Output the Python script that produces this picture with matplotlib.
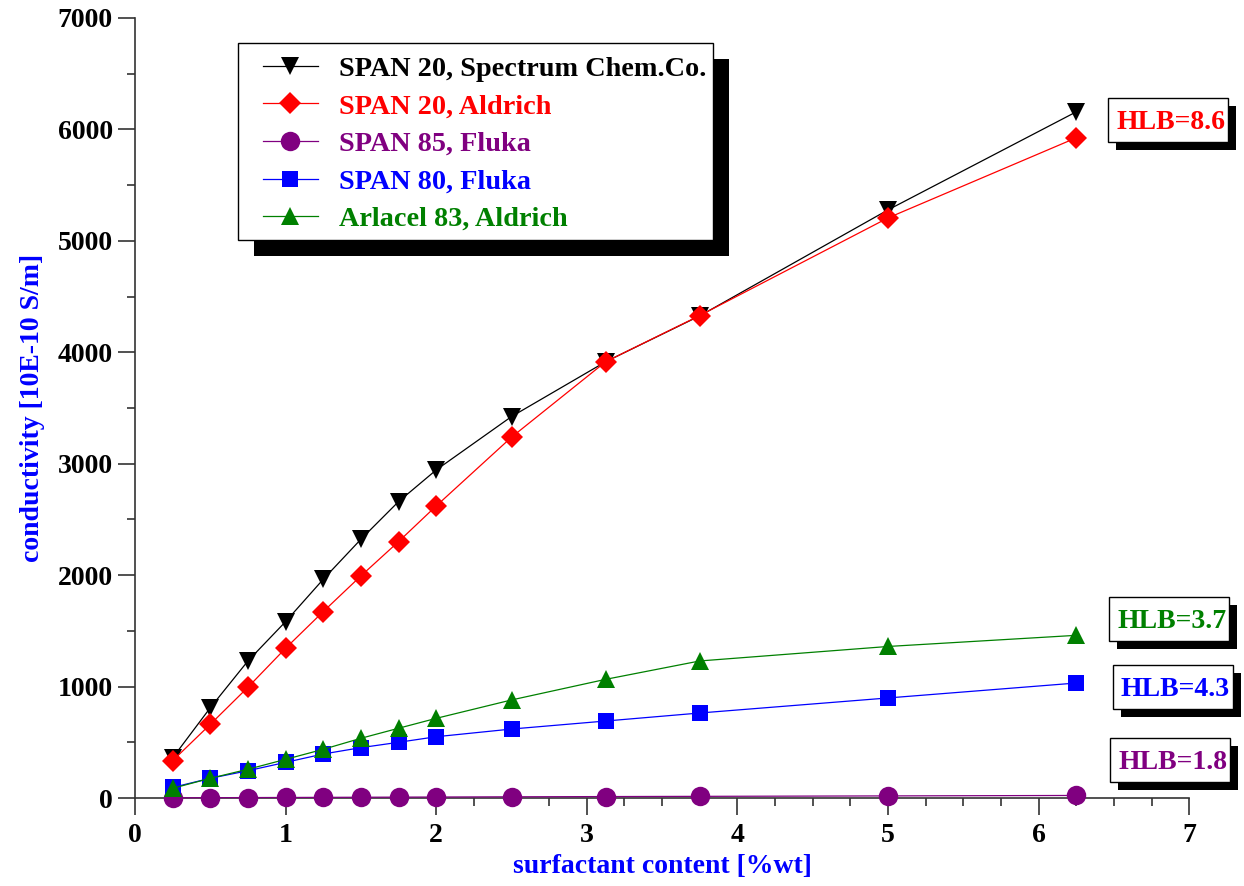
import matplotlib
matplotlib.use("Agg")
from matplotlib import pyplot as plt
from matplotlib.patches import Rectangle

plt.rcParams['font.family'] = ['Liberation Serif', 'DejaVu Serif']
plt.rcParams['font.weight'] = 'bold'

# surfactant content [%wt]
x = [0.25, 0.5, 0.75, 1.0, 1.25, 1.5, 1.75, 2.0, 2.5, 3.125, 3.75, 5.0, 6.25]

# conductivity [10E-10 S/m]
span20_spectrum = [360, 810, 1230, 1583, 1963, 2322, 2660, 2944, 3423, 3915, 4327, 5278, 6158]
span20_aldrich = [335, 661, 994, 1344, 1673, 1993, 2301, 2621, 3238, 3915, 4330, 5206, 5925]
span85_fluka = [2, 3, 4, 5, 6, 7, 8, 9, 11, 13, 15, 19, 23]
span80_fluka = [95, 177, 245, 320, 395, 452, 500, 550, 619, 691, 763, 898, 1032]
arlacel83_aldrich = [87, 177, 258, 347, 437, 536, 626, 715, 880, 1065, 1230, 1360, 1460]

labels = ["SPAN 20, Spectrum Chem.Co.", "SPAN 20, Aldrich", "SPAN 85, Fluka",
          "SPAN 80, Fluka", "Arlacel 83, Aldrich"]
colors = ["black", "#ff0000", "#800080", "#0000ff", "#008000"]
markers = ["v", "D", "o", "s", "^"]
sizes = [13, 11, 14, 11, 13]

hlb_text = ["HLB=8.6", "HLB=3.7", "HLB=4.3", "HLB=1.8"]
hlb_colors = ["#ff0000", "#008000", "#0000ff", "#800080"]
hlb_x = [6.515, 6.522, 6.546, 6.53]
hlb_y = [6065, 1582, 972, 317]

fig = plt.figure(figsize=(12.44, 8.86), dpi=100)
ax = fig.add_axes([0.1085, 0.0993, 0.8475, 0.8804])

series = [span20_spectrum, span20_aldrich, span85_fluka, span80_fluka, arlacel83_aldrich]
for i, yv in enumerate(series):
    ax.plot(x, yv, color=colors[i], marker=markers[i], markersize=sizes[i],
            markeredgewidth=0, linewidth=0.9, label=labels[i], clip_on=False,
            zorder=3 + i)

ax.set_xlim(0, 7)
ax.set_ylim(0, 7000)
ax.set_xticks(range(0, 8))
ax.set_yticks(range(0, 7001, 1000))
ax.set_xticks([i * 0.25 for i in range(29)], minor=True)
ax.set_yticks(range(0, 7001, 500), minor=True)

for s in ['top', 'right']:
    ax.spines[s].set_visible(False)
for s in ['left', 'bottom']:
    ax.spines[s].set_color('#333333')
    ax.spines[s].set_linewidth(1.2)

ax.tick_params(which='major', direction='out', length=12, width=1.2, colors='#333333',
               labelsize=20, labelcolor='black', pad=4)
ax.tick_params(which='minor', direction='out', length=6, width=1.2, colors='#333333')
ax.tick_params(axis='x', which='major', pad=6)
for lab in ax.get_xticklabels() + ax.get_yticklabels():
    lab.set_fontweight('bold')

ax.set_xlabel("surfactant content [%wt]", color='#0000ff', fontsize=20,
              fontweight='bold', labelpad=4)
ax.set_ylabel("conductivity [10E-10 S/m]", color='#0000ff', fontsize=20,
              fontweight='bold', labelpad=9)

# legend without its own frame; the boxed frame + hard shadow is drawn below
leg = ax.legend(loc='upper left', bbox_to_anchor=(263 / 1244, 1 - 56 / 886),
                bbox_transform=fig.transFigure, borderaxespad=0, borderpad=0,
                fontsize=20.3, handlelength=1.95, handletextpad=0.75,
                labelspacing=0.42, frameon=False)
leg.set_zorder(20)
for t, c in zip(leg.get_texts(), colors):
    t.set_color(c)
    t.set_fontweight('bold')

hlb_artists = []
for txt, c, xx, yy in zip(hlb_text, hlb_colors, hlb_x, hlb_y):
    t = ax.text(xx, yy, txt, color=c, fontsize=20, fontweight='bold',
                va='center', ha='left', zorder=20, clip_on=False)
    hlb_artists.append(t)

fig.canvas.draw()
inv = fig.transFigure.inverted()


def shadow_box(bb, left, right, top, bottom, off, z):
    x0, y0 = inv.transform((bb.x0 - left, bb.y0 - bottom))
    x1, y1 = inv.transform((bb.x1 + right, bb.y1 + top))
    dx, dy = off / 1244, off / 886
    ax.add_patch(Rectangle((x0 + dx, y0 - dy), x1 - x0, y1 - y0, transform=fig.transFigure,
                           facecolor='black', edgecolor='none', clip_on=False, zorder=z))
    ax.add_patch(Rectangle((x0, y0), x1 - x0, y1 - y0, transform=fig.transFigure,
                           facecolor='white', edgecolor='black', linewidth=1.0,
                           clip_on=False, zorder=z + 1))


shadow_box(leg.get_window_extent(), 25, 6, 13, 8, 16, 14)
for t in hlb_artists:
    shadow_box(t.get_window_extent(), 8, 3, 12, 7, 8, 12)

fig.savefig("out.png", dpi=100)
